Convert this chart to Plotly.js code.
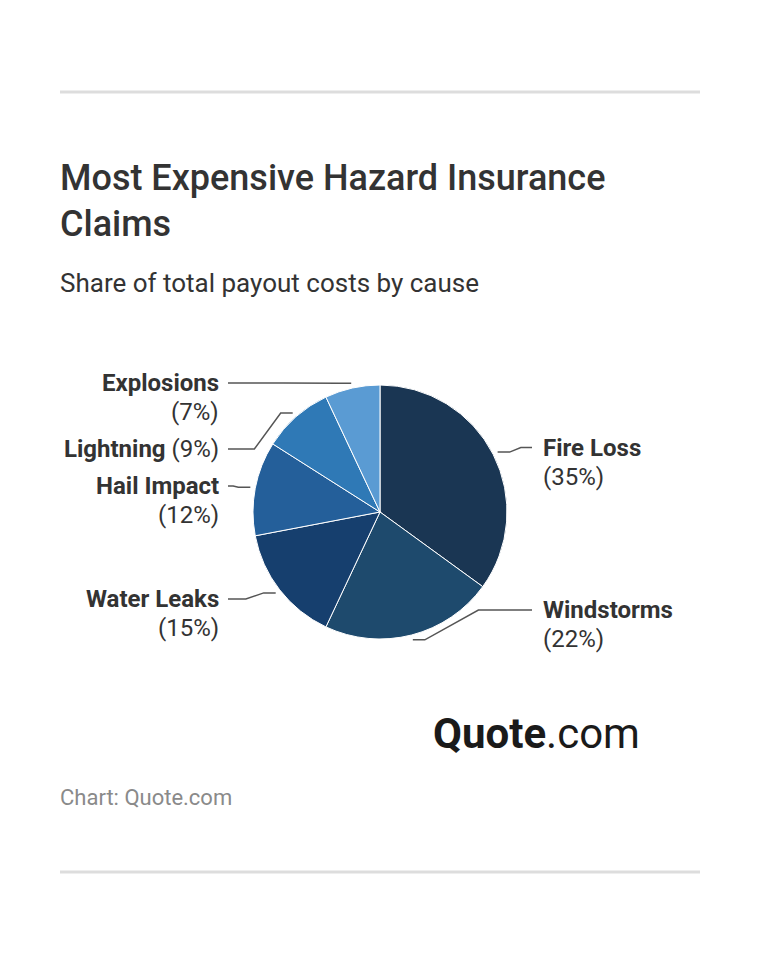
<!DOCTYPE html>
<html>
<head>
<meta charset="utf-8">
<script src="https://cdn.plot.ly/plotly-3.0.1.min.js"></script>
<style>
  html, body { margin: 0; padding: 0; background: #fff; }
  #chart { width: 760px; height: 954px; }
</style>
</head>
<body>
<div id="chart"></div>
<script>
// data
const causes = ['Fire Loss', 'Windstorms', 'Water Leaks', 'Hail Impact', 'Lightning', 'Explosions'];
const shares = [35, 22, 15, 12, 9, 7];
const sliceColors = ['#1a3653', '#1e4a6d', '#163f6e', '#245f9a', '#2f79b6', '#5a9bd3'];

const titleLines = ['Most Expensive Hazard Insurance', 'Claims'];
const subtitle = 'Share of total payout costs by cause';
const source = 'Chart: Quote.com';

// page geometry (pixels)
const W = 760, H = 954;
const CX = 380, CY = 512, R = 127;
const LINE_H = 29, GAP = 37;

const px = x => x / W;
const py = y => 1 - y / H;

// --- label layout from slice mid angles ---
const total = shares.reduce((a, b) => a + b, 0);
let cum = 0;
const labels = shares.map((v, i) => {
    const mid = (cum + v / 2) / total * 2 * Math.PI;
    cum += v;
    const sx = CX + (R + 5) * Math.sin(mid);
    const sy = CY - (R + 5) * Math.cos(mid);
    const right = Math.sin(mid) >= 0;
    const txt = causes[i] + ' (' + v + '%)';
    const lines = txt.length > 14
        ? ['<b>' + causes[i] + '</b>', '(' + v + '%)']
        : ['<b>' + causes[i] + '</b> (' + v + '%)'];
    // preferred label height sits a bit further out than the line start
    return { i, sx, sy, right, lines, y: CY - (R + 15) * Math.cos(mid) };
});

function spread(side) {
    side.sort((a, b) => a.y - b.y);
    let last = -Infinity;
    side.forEach(l => {
        l.y = Math.max(l.y, CY - R - 2, last + GAP);
        l.y = Math.min(l.y, CY + R - LINE_H * (l.lines.length - 1));
        last = l.y + LINE_H * (l.lines.length - 1);
    });
}
spread(labels.filter(l => l.right));
spread(labels.filter(l => !l.right));

const annotations = [];
const shapes = [];

labels.forEach(l => {
    const dir = l.right ? 1 : -1;
    const xEnd = CX + dir * (R + 25);
    const qx = l.sx + dir * 12;
    const ex = (qx + xEnd) / 2;
    const path = 'M' + px(l.sx) + ',' + py(l.sy) +
        ' L' + px(qx) + ',' + py(l.sy) +
        ' L' + px(ex) + ',' + py(l.y) +
        ' L' + px(xEnd) + ',' + py(l.y);
    shapes.push({ type: 'path', xref: 'paper', yref: 'paper', path: path,
        line: { color: '#555', width: 1.5 } });
    l.lines.forEach((t, k) => {
        annotations.push({
            xref: 'paper', yref: 'paper',
            x: px(xEnd + (l.right ? 9 : -7)), y: py(l.y + k * LINE_H),
            xanchor: l.right ? 'left' : 'right', yanchor: 'middle',
            text: t, showarrow: false,
            font: { family: 'Roboto', size: 24, color: '#333' }
        });
    });
});

// title, subtitle, source, logo
titleLines.forEach((t, k) => {
    annotations.push({
        xref: 'paper', yref: 'paper', x: px(58), y: py(178 + k * 46),
        xanchor: 'left', yanchor: 'middle', showarrow: false, text: t,
        font: { family: 'Roboto', size: 36, color: '#333', weight: 500 }
    });
});
annotations.push({
    xref: 'paper', yref: 'paper', x: px(58), y: py(283),
    xanchor: 'left', yanchor: 'middle', showarrow: false, text: subtitle,
    font: { family: 'Roboto', size: 26, color: '#333' }
});
annotations.push({
    xref: 'paper', yref: 'paper', x: px(58), y: py(797),
    xanchor: 'left', yanchor: 'middle', showarrow: false, text: source,
    font: { family: 'Roboto', size: 22, color: '#8a8a8a' }
});
annotations.push({
    xref: 'paper', yref: 'paper', x: px(431), y: py(733),
    xanchor: 'left', yanchor: 'middle', showarrow: false, text: '<b>Quote</b>.com',
    font: { family: 'Roboto', size: 42, color: '#1a1a1a' }
});

// rules top and bottom
[92, 872].forEach(y => {
    shapes.push({ type: 'line', xref: 'paper', yref: 'paper',
        x0: px(60), x1: px(700), y0: py(y), y1: py(y),
        line: { color: '#dddddd', width: 3 } });
});

const trace = {
    type: 'pie',
    labels: causes,
    values: shares,
    sort: false,
    direction: 'clockwise',
    rotation: 0,
    textinfo: 'none',
    hoverinfo: 'skip',
    marker: { colors: sliceColors, line: { color: '#fff', width: 1 } },
    domain: { x: [0, 1], y: [py(CY + R), py(CY - R)] }
};

const layout = {
    width: W, height: H,
    margin: { t: 0, b: 0, l: 0, r: 0 },
    paper_bgcolor: '#fff',
    showlegend: false,
    font: { family: 'Roboto' },
    annotations: annotations,
    shapes: shapes
};

Plotly.newPlot('chart', [trace], layout, { displayModeBar: false, staticPlot: true });
</script>
</body>
</html>
